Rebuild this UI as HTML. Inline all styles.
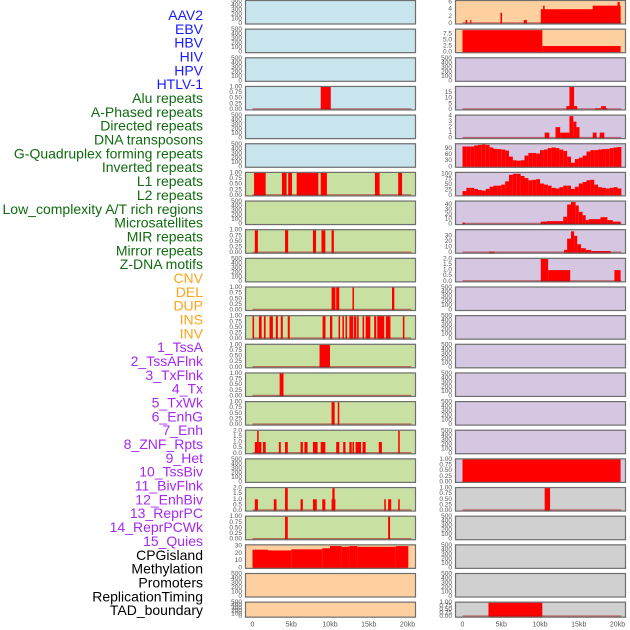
<!DOCTYPE html>
<html><head><meta charset="utf-8"><style>
html,body{margin:0;padding:0;background:#fff;}
svg{display:block;font-family:"Liberation Sans",sans-serif;}
</style></head><body>
<svg id="chart" width="630" height="630" viewBox="0 0 630 630" xmlns="http://www.w3.org/2000/svg"></svg>
<script>
// ---------- data ----------
const trackNames = ["AAV2","EBV","HBV","HIV","HPV","HTLV-1","Alu repeats","A-Phased repeats","Directed repeats","DNA transposons","G-Quadruplex forming repeats","Inverted repeats","L1 repeats","L2 repeats","Low_complexity A/T rich regions","Microsatellites","MIR repeats","Mirror repeats","Z-DNA motifs","CNV","DEL","DUP","INS","INV","1_TssA","2_TssAFlnk","3_TxFlnk","4_Tx","5_TxWk","6_EnhG","7_Enh","8_ZNF_Rpts","9_Het","10_TssBiv","11_BivFlnk","12_EnhBiv","13_ReprPC","14_ReprPCWk","15_Quies","CPGisland","Methylation","Promoters","ReplicationTiming","TAD_boundary"];
const trackGroups = ["virus","virus","virus","virus","virus","virus","repeat","repeat","repeat","repeat","repeat","repeat","repeat","repeat","repeat","repeat","repeat","repeat","repeat","sv","sv","sv","sv","sv","state","state","state","state","state","state","state","state","state","state","state","state","state","state","state","misc","misc","misc","misc","misc"];
const xTicks = [0,5,10,15,20];
const xTickLabels = ["0","5kb","10kb","15kb","20kb"];
const emptyTicks = [0,100,200,300,400,500];
const binTicks = [0,0.25,0.5,0.75,1];
const twoTicks = [0,0.5,1,1.5,2];

// interval tracks: [startKb, endKb, value]
const segL04 = [[8.8,10.1,1]];
const segL07 = [[0.2,1.7,1],[3.8,4.4,1],[4.6,5.1,1],[5.7,8.5,1],[8.8,9.6,1],[15.8,16.4,1],[18.8,19.3,1]];
const segL09 = [[0.3,0.7,1],[4.2,4.6,1],[7.8,8.2,1],[8.9,9.4,1],[10.2,10.5,1]];
const segL11 = [[10.2,10.7,1],[10.8,11.2,1],[12.9,13.1,1],[18.0,18.3,1]];
const segL12 = [[0,0.2,1],[0.83,1.18,1],[1.47,1.69,1],[2.2,2.63,1],[3.01,3.27,1],[3.65,3.91,1],[4.55,4.81,1],[9.04,9.42,1],[10.0,10.3,1],[11.1,11.3,1],[11.6,11.8,1],[12.0,12.2,1],[12.5,13.0,1],[13.1,13.4,1],[13.5,13.7,1],[14.2,14.4,1],[14.6,15.2,1],[15.7,15.96,1],[16.1,17.0,1],[17.2,17.8,1],[19.4,19.6,1]];
const segL13 = [[8.65,10.0,1]];
const segL14 = [[3.5,4.0,1]];
const segL15 = [[10.2,10.6,1],[11.0,11.2,1]];
const segL16 = [[0.3,0.7,1],[0.6,0.8,2],[0.8,1.15,1],[1.35,1.7,1],[3.4,3.65,1],[4.2,4.55,1],[6.2,6.5,1],[6.7,7.1,1],[7.8,8.4,1],[8.8,9.4,1],[10.8,11.2,1],[11.7,12.0,1],[12.5,12.8,1],[12.9,13.1,1],[13.3,14.0,1],[14.2,14.6,1],[16.3,16.7,1],[18.8,19.0,2]];
const segL18 = [[0.3,0.7,1],[2.75,3.1,1],[4.2,4.55,2],[6.2,6.5,1],[7.8,8.3,1],[9.0,9.4,1],[10.2,10.7,1],[10.3,10.6,2],[17.0,17.2,1],[17.5,17.9,1],[18.8,19.0,1]];
const segL19 = [[4.2,4.55,1],[17.5,17.75,1]];
const segL20 = [[0,2,25],[2,5,24],[5,9,25.5],[9,10,27],[10,11.5,30],[11.5,12.5,29],[12.5,13.5,30],[13.5,18.5,29],[18.5,20.1,30]];
const segR01 = [[0.4,0.6,1],[1.0,1.15,1],[4.9,5.1,3],[7.9,8.3,1],[10.1,20.4,4],[10.4,10.6,5],[16.8,20.4,5],[20.0,20.3,6]];
const segR02 = [[0,10.3,9],[10.3,20.4,2.5]];
const segR04 = [[13.4,14.8,3],[13.8,14.4,20],[17.1,18.7,1],[17.9,18.5,3]];
const segR05 = [[10.6,11.2,1],[12.0,12.6,2],[12.6,13.8,1],[13.8,14.3,4],[14.3,14.7,3],[14.7,15.1,2],[16.8,17.3,1],[17.7,18.3,1]];
const segR08 = [[0,0.3,3],[10.1,10.9,5],[10.9,13.0,6],[13.0,13.5,15],[13.5,14.0,40],[14.0,14.6,45],[14.6,15.0,38],[15.0,15.5,25],[15.5,15.9,18],[15.9,16.3,8],[16.3,17.8,10],[17.8,18.7,14],[18.7,19.4,8],[19.4,20.4,5]];
const segR09 = [[3.4,4.1,2],[13.1,13.5,5],[13.5,14.0,25],[14.0,14.4,38],[14.4,14.8,30],[14.8,15.3,15],[15.3,15.9,8],[15.9,16.6,5],[16.6,19.1,3]];
const segR10 = [[10.1,11.05,2],[11.05,13.9,1],[19.6,20.4,1]];
const segR17 = [[0,20.4,1]];
const segR18 = [[10.6,11.3,1]];
const segR22 = [[3.35,10.3,1]];
// binned profiles (0.5 kb bins from 0)
const profR06 = [100,100,100,105,108,110,108,95,88,87,85,80,50,32,30,32,55,68,68,65,82,85,92,95,92,85,78,50,20,38,45,55,75,82,82,85,87,88,92,95,97];
const profR07 = [20,35,35,30,25,22,30,40,45,45,50,65,95,100,100,90,80,70,72,75,55,50,45,35,32,38,45,45,30,40,55,62,70,72,50,38,35,32,35,38,32];

// panel specs: col, row, background group, y domain max, ticks, data
const panelSpecs = [
 {c:0,r:0,bg:"blue",max:500,ticks:emptyTicks},
 {c:0,r:1,bg:"blue",max:500,ticks:emptyTicks},
 {c:0,r:2,bg:"blue",max:500,ticks:emptyTicks},
 {c:0,r:3,bg:"blue",max:1,ticks:binTicks,segs:segL04,base:1,fmt:2},
 {c:0,r:4,bg:"blue",max:500,ticks:emptyTicks},
 {c:0,r:5,bg:"blue",max:500,ticks:emptyTicks},
 {c:0,r:6,bg:"green",max:1,ticks:binTicks,segs:segL07,base:1,fmt:2},
 {c:0,r:7,bg:"green",max:500,ticks:emptyTicks},
 {c:0,r:8,bg:"green",max:1,ticks:binTicks,segs:segL09,base:1,fmt:2},
 {c:0,r:9,bg:"green",max:500,ticks:emptyTicks},
 {c:0,r:10,bg:"green",max:1,ticks:binTicks,segs:segL11,base:1,fmt:2},
 {c:0,r:11,bg:"green",max:1,ticks:binTicks,segs:segL12,base:1,fmt:2},
 {c:0,r:12,bg:"green",max:1,ticks:binTicks,segs:segL13,base:1,fmt:2},
 {c:0,r:13,bg:"green",max:1,ticks:binTicks,segs:segL14,base:1,fmt:2},
 {c:0,r:14,bg:"green",max:1,ticks:binTicks,segs:segL15,base:1,fmt:2},
 {c:0,r:15,bg:"green",max:2,ticks:twoTicks,segs:segL16,base:1,fmt:1},
 {c:0,r:16,bg:"green",max:500,ticks:emptyTicks},
 {c:0,r:17,bg:"green",max:2,ticks:twoTicks,segs:segL18,base:1,fmt:1},
 {c:0,r:18,bg:"green",max:1,ticks:binTicks,segs:segL19,base:1,fmt:2},
 {c:0,r:19,bg:"orange",max:31,ticks:[0,10,20,30],segs:segL20},
 {c:0,r:20,bg:"orange",max:500,ticks:emptyTicks},
 {c:0,r:21,bg:"orange",max:500,ticks:emptyTicks},
 {c:1,r:0,bg:"orange",max:6.3,ticks:[0,2,4,6],segs:segR01,base:1},
 {c:1,r:1,bg:"orange",max:9.2,ticks:[0,2.5,5,7.5],segs:segR02,fmt:1},
 {c:1,r:2,bg:"purple",max:500,ticks:emptyTicks},
 {c:1,r:3,bg:"purple",max:20,ticks:[0,5,10,15],segs:segR04,base:1},
 {c:1,r:4,bg:"purple",max:4.1,ticks:[0,1,2,3,4],segs:segR05,base:1},
 {c:1,r:5,bg:"purple",max:111,ticks:[0,30,60,90],prof:profR06},
 {c:1,r:6,bg:"purple",max:104,ticks:[0,25,50,75,100],prof:profR07},
 {c:1,r:7,bg:"purple",max:46,ticks:[0,10,20,30,40],segs:segR08,base:1},
 {c:1,r:8,bg:"purple",max:40,ticks:[0,10,20,30],segs:segR09,base:1},
 {c:1,r:9,bg:"purple",max:2,ticks:twoTicks,segs:segR10,base:1,fmt:1},
 {c:1,r:10,bg:"purple",max:500,ticks:emptyTicks},
 {c:1,r:11,bg:"purple",max:500,ticks:emptyTicks},
 {c:1,r:12,bg:"purple",max:500,ticks:emptyTicks},
 {c:1,r:13,bg:"purple",max:500,ticks:emptyTicks},
 {c:1,r:14,bg:"purple",max:500,ticks:emptyTicks},
 {c:1,r:15,bg:"purple",max:500,ticks:emptyTicks},
 {c:1,r:16,bg:"purple",max:1,ticks:binTicks,segs:segR17,fmt:2},
 {c:1,r:17,bg:"grey",max:1,ticks:binTicks,segs:segR18,base:1,fmt:2},
 {c:1,r:18,bg:"grey",max:500,ticks:emptyTicks},
 {c:1,r:19,bg:"grey",max:500,ticks:emptyTicks},
 {c:1,r:20,bg:"grey",max:500,ticks:emptyTicks},
 {c:1,r:21,bg:"grey",max:1,ticks:binTicks,segs:segR22,base:1,fmt:2}
];

// ---------- layout / style ----------
const NS = "http://www.w3.org/2000/svg";
const svg = document.getElementById("chart");
const bgColors = {blue:"#c8e4ec",green:"#c8e0a2",orange:"#ffd09f",purple:"#d5c6e2",grey:"#d0d0d0"};
const labelColors = {virus:"#1a1aff",repeat:"#0f6b0f",sv:"#ffa31a",state:"#a52af0",misc:"#000"};
const colLeft = [245,455];
const panelW = 171;
const rowPitch = 28.65;
function rowTop(r){ return r*rowPitch; }
function rowH(r){ return r===21 ? 16 : 24.5; }
function xScale(c,kb){ return colLeft[c] + 7.5 + kb*7.75; }
function yScale(top,h,max,v){ return top + h - 1 - (v/max)*(h-2); }

function mk(tag, attrs, parent){
  const e = document.createElementNS(NS, tag);
  for (const k in attrs) e.setAttribute(k, attrs[k]);
  (parent||svg).appendChild(e);
  return e;
}

// labels
trackNames.forEach((n,i)=>{
  const t = mk("text",{x:203,y:15+i*13.84,"text-anchor":"end","dominant-baseline":"central","font-size":"14",fill:labelColors[trackGroups[i]]});
  
  
  t.textContent = n;
});

panelSpecs.forEach((p,i)=>{
  const top = rowTop(p.r), h = rowH(p.r), x0 = colLeft[p.c];
  const g = mk("g",{});
  
  
  const bg = mk("rect",{x:x0,y:top,width:panelW,height:h,fill:bgColors[p.bg]},g);
  
  
  // data
  let segs = p.segs ? p.segs.slice() : [];
  if (p.prof) p.prof.forEach((v,k)=>segs.push([k*0.5,(k+1)*0.5,v]));
  segs.forEach(s=>{
    const xa = xScale(p.c,s[0]), xb = xScale(p.c,s[1]);
    const yv = Math.max(top, yScale(top,h,p.max,s[2]));
    const rr = mk("rect",{x:xa,y:yv,width:Math.max(0.8,xb-xa),height:top+h-yv,fill:"#ff0000"},g);
    
    
  });
  if (p.base){
    const bl = mk("line",{x1:xScale(p.c,0),x2:xScale(p.c,20.5),y1:top+h-1.5,y2:top+h-1.5,stroke:"rgba(170,20,20,0.55)","stroke-width":1.5},g);
    
    
  }
  const br = mk("rect",{x:x0+0.5,y:top+0.5,width:panelW-1,height:h-1,fill:"none",stroke:"#6e6e6e","stroke-width":1.2},g);
  
  
  // y ticks
  p.ticks.forEach(tv=>{
    const ty = yScale(top,h,p.max,tv);
    const lbl = p.fmt===2 ? tv.toFixed(2) : p.fmt===1 ? tv.toFixed(1) : String(tv);
    const t = mk("text",{x:x0-3,y:ty,"text-anchor":"end","dominant-baseline":"central","font-size":"6.5",fill:"#555"},g);
    
    
    t.textContent = lbl;
  });
});

// x axes
[0,1].forEach(c=>{
  xTicks.forEach((v,k)=>{
    const t = mk("text",{x:xScale(c,v),y:625,"text-anchor":"middle","dominant-baseline":"central","font-size":"7",fill:"#555"});
    
    
    t.textContent = xTickLabels[k];
  });
});
</script>
</body></html>
